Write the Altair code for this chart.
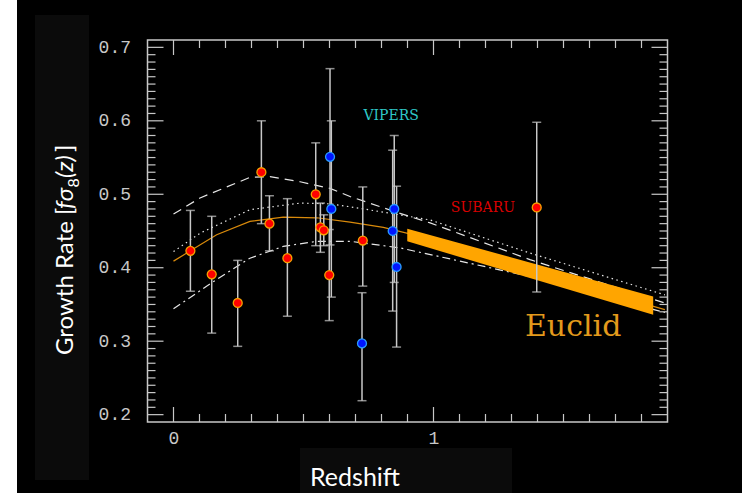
import altair as alt
import pandas as pd

# ---------------- data ----------------
red_z = [0.065, 0.147, 0.247, 0.338, 0.369, 0.438, 0.547, 0.565, 0.578, 0.599, 0.728, 1.397]
red_f = [0.423, 0.391, 0.352, 0.530, 0.460, 0.413, 0.500, 0.455, 0.451, 0.390, 0.437, 0.482]
red_lo = [0.368, 0.311, 0.293, 0.460, 0.423, 0.334, 0.430, 0.421, 0.430, 0.328, 0.375, 0.367]
red_hi = [0.478, 0.470, 0.410, 0.600, 0.498, 0.494, 0.570, 0.488, 0.472, 0.452, 0.510, 0.598]

blue_z = [0.602, 0.607, 0.725, 0.849, 0.843, 0.858]
blue_f = [0.551, 0.480, 0.297, 0.480, 0.450, 0.401]
blue_lo = [0.431, 0.360, 0.219, 0.380, 0.341, 0.292]
blue_hi = [0.671, 0.600, 0.366, 0.580, 0.560, 0.511]

solid_z = [0.0, 0.065, 0.166, 0.294, 0.422, 0.551, 0.679, 0.807, 0.897, 1.1, 1.4, 1.7, 1.89]
solid_f = [0.409, 0.423, 0.445, 0.463, 0.469, 0.468, 0.462, 0.455, 0.447, 0.427, 0.394, 0.362, 0.343]

dashed_z = [0.0, 0.102, 0.294, 0.371, 0.487, 0.602, 0.679, 0.871, 0.987, 1.371, 1.89]
dashed_f = [0.473, 0.495, 0.523, 0.524, 0.517, 0.508, 0.497, 0.474, 0.461, 0.411, 0.352]

dotted_z = [0.0, 0.102, 0.294, 0.487, 0.602, 0.679, 0.871, 0.987, 1.371, 1.89]
dotted_f = [0.422, 0.447, 0.479, 0.488, 0.487, 0.483, 0.472, 0.465, 0.420, 0.363]

dashdot_z = [0.0, 0.166, 0.294, 0.422, 0.551, 0.679, 0.871, 1.371, 1.89]
dashdot_f = [0.344, 0.384, 0.413, 0.429, 0.436, 0.436, 0.427, 0.388, 0.339]

euclid_z = [0.899, 1.845]
euclid_hi = [0.453, 0.361]
euclid_lo = [0.436, 0.336]

x_major = [0.0, 1.0]
x_minor = [0.1, 0.2, 0.3, 0.4, 0.5, 0.6, 0.7, 0.8, 0.9,
           1.1, 1.2, 1.3, 1.4, 1.5, 1.6, 1.7, 1.8]
y_major = [0.2, 0.3, 0.4, 0.5, 0.6, 0.7]
y_minor = [round(0.2 + 0.01 * i, 2) for i in range(1, 50) if i % 10 != 0]

survey_names = ["VIPERS", "SUBARU", "Euclid"]
survey_z = [0.837, 1.190, 1.537]
survey_f = [0.606, 0.481, 0.320]

# ---------------- layout ----------------
W, H = 520, 382
PL, PT = 147.5, 40
GRAY = "#c8c8c8"

xs = alt.Scale(domain=[-0.1, 1.9], nice=False, zero=False)
ys = alt.Scale(domain=[0.19, 0.71], nice=False, zero=False)

x_axis = alt.Axis(values=x_major, format="d", ticks=False, tickSize=0, domain=False,
                  grid=False, title=None, labelFont="Liberation Mono", labelFontSize=18,
                  labelColor=GRAY, labelPadding=7, labelBaseline="top")
y_axis = alt.Axis(values=y_major, format=".1f", ticks=False, tickSize=0, domain=False,
                  grid=False, title=None, labelFont="Liberation Mono", labelFontSize=18,
                  labelColor=GRAY, labelPadding=17)


def X(field="z"):
    return alt.X(f"{field}:Q", scale=xs, axis=x_axis)


def Y(field="f"):
    return alt.Y(f"{field}:Q", scale=ys, axis=y_axis)


one = pd.DataFrame({"k": [0]})

def box(x1, x2, y1, y2, color):
    return alt.Chart(one).mark_rect(color=color).encode(
        x=alt.value(x1), x2=alt.value(x2), y=alt.value(y1), y2=alt.value(y2))

white_strip = box(-PL, -PL + 17, -PT, H + 71, "#ffffff")
ylab_box = box(-112.5, -58.5, -25, 440, "#0b0b0b")
xlab_box = box(152.5, 364.5, 408, 453, "#0b0b0b")

def curve(zs, fs, color, dash=None):
    kw = dict(color=color, strokeWidth=1.2)
    if dash:
        kw["strokeDash"] = dash
    return alt.Chart(pd.DataFrame({"z": zs, "f": fs})).mark_line(**kw).encode(
        x=X(), y=Y(), order="z:Q")

solid = curve(solid_z, solid_f, "#d98a0b")
dashed = curve(dashed_z, dashed_f, "#e6e6e6", [9, 6])
dotted = curve(dotted_z, dotted_f, "#e6e6e6", [1.5, 3.5])
dashdot = curve(dashdot_z, dashdot_f, "#e6e6e6", [8, 4, 2, 4])

band = alt.Chart(pd.DataFrame({"z": euclid_z, "lo": euclid_lo, "hi": euclid_hi})).mark_area(
    color="#ffa500", opacity=1).encode(x=X(), y=Y("lo"), y2="hi:Q")

pts = pd.concat([
    pd.DataFrame({"z": red_z, "f": red_f, "lo": red_lo, "hi": red_hi, "s": "red"}),
    pd.DataFrame({"z": blue_z, "f": blue_f, "lo": blue_lo, "hi": blue_hi, "s": "blue"}),
], ignore_index=True)

err = alt.Chart(pts).mark_rule(color=GRAY, strokeWidth=1.5).encode(
    x=X(), y=Y("lo"), y2="hi:Q")
cap_lo = alt.Chart(pts).mark_tick(color=GRAY, orient="horizontal", size=9, thickness=1.5).encode(
    x=X(), y=Y("lo"))
cap_hi = alt.Chart(pts).mark_tick(color=GRAY, orient="horizontal", size=9, thickness=1.5).encode(
    x=X(), y=Y("hi"))

dots = alt.Chart(pts).mark_point(filled=True, size=80, shape="circle", strokeWidth=1.3, opacity=1).encode(
    x=X(), y=Y(),
    fill=alt.Fill("s:N", scale=alt.Scale(domain=["red", "blue"], range=["#ff0000", "#0015ff"]), legend=None),
    stroke=alt.Stroke("s:N", scale=alt.Scale(domain=["red", "blue"], range=["#f5a000", "#2a9cff"]), legend=None),
)

lab_df = pd.DataFrame({"z": survey_z, "f": survey_f, "t": survey_names})
lab_colors = alt.Scale(domain=survey_names, range=["#2fc8c8", "#d80000", "#e39a1c"])
labels_small = alt.Chart(lab_df[lab_df.t != "Euclid"]).mark_text(
    font="DejaVu Serif", fontSize=14, align="center", baseline="middle").encode(
    x=X(), y=Y(), text="t:N", color=alt.Color("t:N", scale=lab_colors, legend=None))
labels_big = alt.Chart(lab_df[lab_df.t == "Euclid"]).mark_text(
    font="DejaVu Serif", fontSize=30, align="center", baseline="middle").encode(
    x=X(), y=Y(), text="t:N", color=alt.Color("t:N", scale=lab_colors, legend=None))

# ticks (inward on all four sides)
def xticks(vals, length):
    d = pd.DataFrame({"z": vals})
    bot = alt.Chart(d).mark_rule(color=GRAY, strokeWidth=1.2).encode(
        x=X(), y=alt.value(H), y2=alt.value(H - length))
    top = alt.Chart(d).mark_rule(color=GRAY, strokeWidth=1.2).encode(
        x=X(), y=alt.value(0), y2=alt.value(length))
    return [bot, top]

def yticks(vals, length):
    d = pd.DataFrame({"f": vals})
    left = alt.Chart(d).mark_rule(color=GRAY, strokeWidth=1.2).encode(
        y=Y(), x=alt.value(0), x2=alt.value(length))
    right = alt.Chart(d).mark_rule(color=GRAY, strokeWidth=1.2).encode(
        y=Y(), x=alt.value(W), x2=alt.value(W - length))
    return [left, right]

ticks = xticks(x_major, 15) + xticks(x_minor, 8) + yticks(y_major, 16) + yticks(y_minor, 8)

# axis titles as text
def txt(t, x, y, size, style="normal", angle=270, align="left"):
    return alt.Chart(pd.DataFrame({"t": [t]})).mark_text(
        font="Lato", fontSize=size, fontStyle=style, color="#ffffff", angle=angle,
        align=align, baseline="alphabetic").encode(
        x=alt.value(x), y=alt.value(y), text="t:N")

ytitle = [
    txt("Growth Rate [", -74.5, 315, 24),
    txt("fσ", -74.5, 169, 24, "italic"),
    txt("8", -68.5, 147.5, 16),
    txt("(z)", -74.5, 138, 24, "italic"),
    txt("]", -74.5, 112, 24),
]
xtitle = txt("Redshift", 162.5, 446, 25, angle=0)

chart = alt.layer(
    white_strip, ylab_box,
    solid, dashed, dotted, dashdot,
    band,
    err, cap_lo, cap_hi,
    dots,
    labels_small, labels_big,
    *ticks,
    xlab_box, xtitle, *ytitle,
).properties(
    width=W, height=H,
    padding={"left": PL, "top": PT, "right": 742 - PL - W, "bottom": 493 - PT - H},
    autosize=alt.AutoSizeParams(type="none"),
    background="#000000",
).configure_view(stroke=GRAY, strokeWidth=1.5)

chart.save("out.html", embed_options={"renderer": "svg", "actions": False})
